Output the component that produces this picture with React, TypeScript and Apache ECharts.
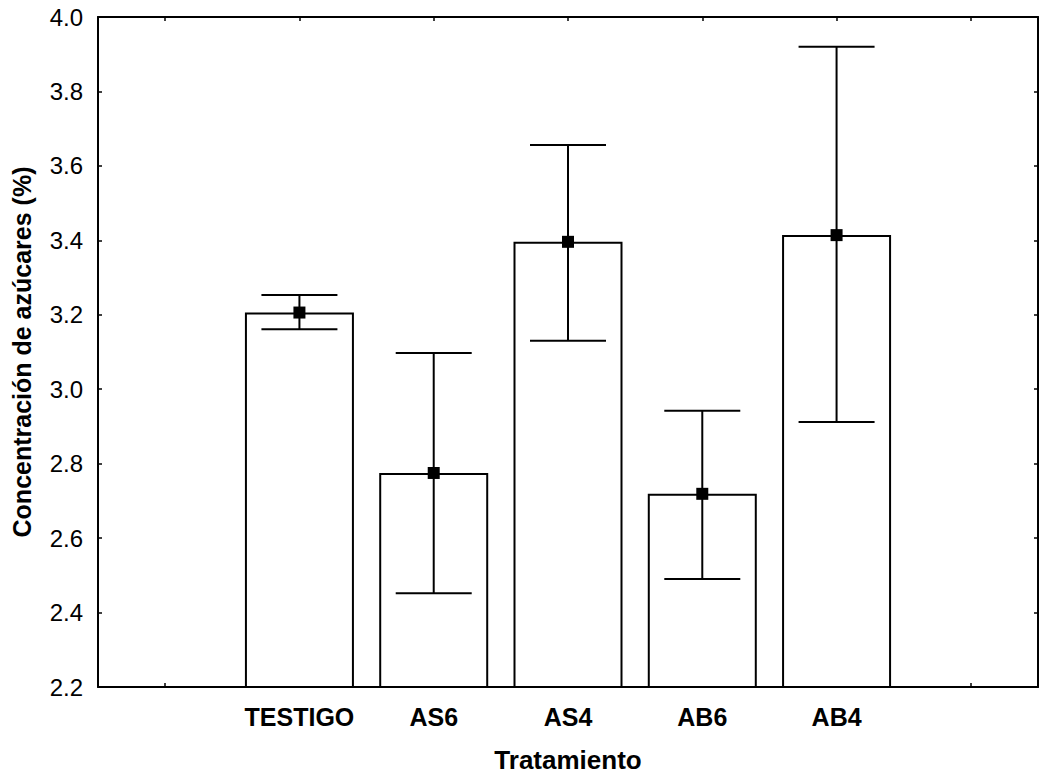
import React, { useEffect, useRef } from "react";
import * as echarts from "echarts";

const categories = ["", "TESTIGO", "AS6", "AS4", "AB6", "AB4", ""];
const means = [null, 3.206, 2.775, 3.396, 2.719, 3.414, null];
const lowers = [null, 3.161, 2.452, 3.13, 2.49, 2.912, null];
const uppers = [null, 3.253, 3.097, 3.656, 2.942, 3.92, null];
const yTicks = { min: 2.2, max: 4.0, interval: 0.2 };

export default function App() {
  const ref = useRef<HTMLDivElement>(null);
  useEffect(() => {
    const chart = echarts.init(ref.current!, null, { renderer: "svg" });
    const errData = categories
      .map((c, i) => (means[i] == null ? null : [i, lowers[i], uppers[i]]))
      .filter((d) => d !== null);
    const meanData = categories
      .map((c, i) => (means[i] == null ? null : [i, means[i]]))
      .filter((d) => d !== null);
    const font = "'Liberation Sans', Arial, sans-serif";
    chart.setOption({
      animation: false,
      backgroundColor: "#ffffff",
      grid: { left: 98, top: 17, right: 2, bottom: 87, containLabel: false, outerBoundsMode: "none" },
      xAxis: [
        {
          type: "category",
          data: categories,
          position: "bottom",
          axisLine: { show: true, lineStyle: { color: "#000", width: 2 } },
          axisTick: { show: true, alignWithLabel: true, interval: 0, inside: true, length: 4, lineStyle: { color: "#000", width: 1.5 } },
          axisLabel: { color: "#000", fontSize: 25, fontFamily: font, fontWeight: "bold", margin: 17, interval: 0, hideOverlap: false },
          name: "Tratamiento",
          nameLocation: "middle",
          nameGap: 60,
          nameTextStyle: { color: "#000", fontSize: 26, fontWeight: "bold", fontFamily: font },
          splitLine: { show: false },
        },
        {
          type: "category",
          data: categories,
          position: "top",
          axisLine: { show: true, lineStyle: { color: "#000", width: 2 } },
          axisTick: { show: true, alignWithLabel: true, interval: 0, inside: true, length: 4, lineStyle: { color: "#000", width: 1.5 } },
          axisLabel: { show: false },
          splitLine: { show: false },
        },
      ],
      yAxis: [
        {
          type: "value",
          min: yTicks.min,
          max: yTicks.max,
          interval: yTicks.interval,
          position: "left",
          axisLine: { show: true, lineStyle: { color: "#000", width: 2 } },
          axisTick: { show: true, inside: true, length: 4, lineStyle: { color: "#000", width: 1.5 } },
          axisLabel: {
            color: "#000",
            fontSize: 24,
            fontFamily: font,
            margin: 15,
            formatter: (v: number) => v.toFixed(1),
          },
          splitLine: { show: false },
          name: "Concentración de azúcares (%)",
          nameLocation: "middle",
          nameGap: 64,
          nameTextStyle: { color: "#000", fontSize: 25, fontWeight: "bold", fontFamily: font },
        },
        {
          type: "value",
          min: yTicks.min,
          max: yTicks.max,
          interval: yTicks.interval,
          position: "right",
          axisLine: { show: true, lineStyle: { color: "#000", width: 2 } },
          axisTick: { show: true, inside: true, length: 4, lineStyle: { color: "#000", width: 1.5 } },
          axisLabel: { show: false },
          splitLine: { show: false },
        },
      ],
      series: [
        {
          type: "bar",
          data: means,
          barWidth: 109,
          itemStyle: { color: "#ffffff", borderColor: "#000", borderWidth: 2 },
          z: 2,
        },
        {
          type: "custom",
          data: errData,
          z: 3,
          renderItem: (params: any, api: any) => {
            const x = api.value(0);
            const lo = api.coord([x, api.value(1)]);
            const hi = api.coord([x, api.value(2)]);
            const hw = 38;
            const style = { stroke: "#000", lineWidth: 2 };
            return {
              type: "group",
              children: [
                { type: "line", shape: { x1: lo[0], y1: lo[1], x2: hi[0], y2: hi[1] }, style },
                { type: "line", shape: { x1: hi[0] - hw, y1: hi[1], x2: hi[0] + hw, y2: hi[1] }, style },
                { type: "line", shape: { x1: lo[0] - hw, y1: lo[1], x2: lo[0] + hw, y2: lo[1] }, style },
              ],
            };
          },
        },
        {
          type: "scatter",
          data: meanData,
          symbol: "rect",
          symbolSize: 12,
          itemStyle: { color: "#000", opacity: 1 },
          z: 4,
        },
      ],
    });
    return () => chart.dispose();
  }, []);
  return (
    <div
      ref={ref}
      style={{ position: "absolute", left: 0, top: 0, width: 1040, height: 774 }}
    />
  );
}
